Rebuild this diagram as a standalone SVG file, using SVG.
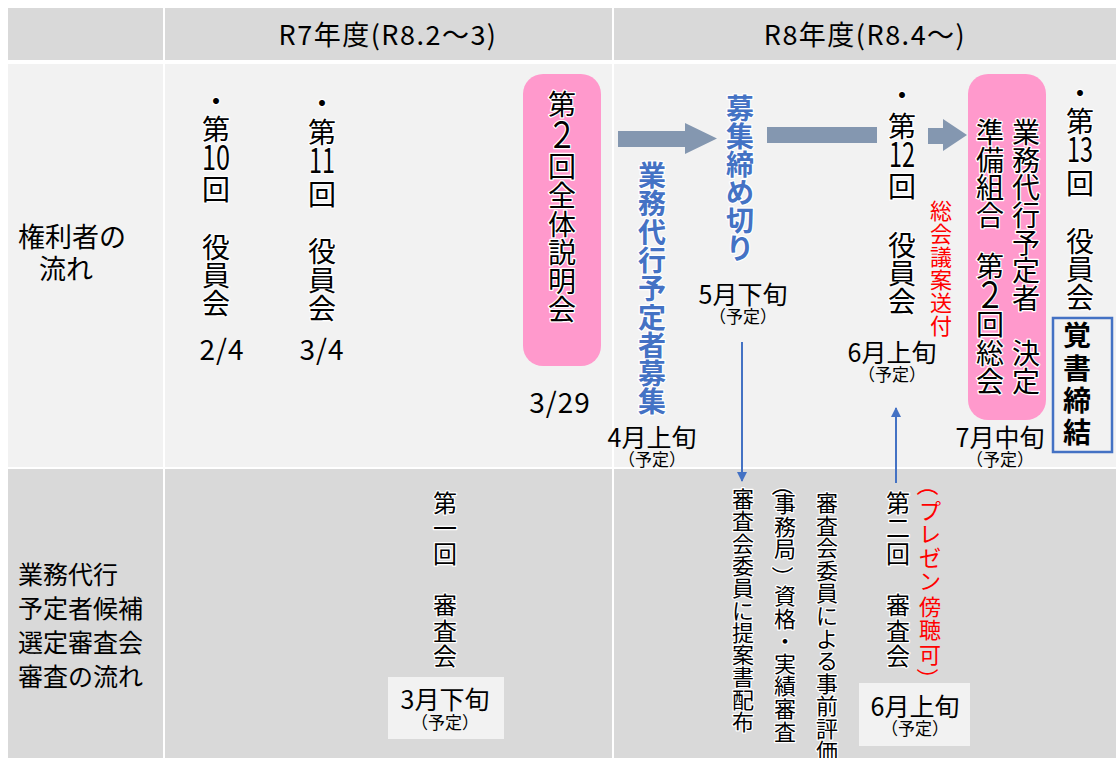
<svg xmlns="http://www.w3.org/2000/svg" width="1116" height="758" viewBox="0 0 1116 758">
<defs>
<style>
text{font-family:"Noto Sans CJK JP","Noto Sans",sans-serif;fill:#000}
.h{font-size:27px;letter-spacing:1.5px}
.lbl{font-size:25px}
.lbl2{font-size:27px}
.v{font-size:28px;text-anchor:middle}
.vs{font-size:22px;text-anchor:middle}
.vm{font-size:24px;text-anchor:middle}
.blue{fill:#4472c4;font-weight:bold}
.red{fill:#ff0000}
.halo{stroke:#fff;stroke-width:2.5px;stroke-linejoin:round;paint-order:stroke}
.date{font-size:25px;text-anchor:middle}
.sub{font-size:17px;text-anchor:middle}
.num{font-size:28px;text-anchor:middle;letter-spacing:1px}
.pink{fill:#ff99cc}
.garrow{fill:#8497b0}
.conn{stroke:#4472c4;stroke-width:2;fill:none}
</style>
<marker id="ah" viewBox="0 0 10 10" refX="9" refY="5" markerWidth="10" markerHeight="10" markerUnits="userSpaceOnUse" orient="auto">
<path d="M0,0 L10,5 L0,10 z" fill="#4472c4"/>
</marker>
</defs>

<g id="table">
<rect x="8" y="8" width="155" height="52" fill="#d9d9d9"/>
<rect x="165" y="8" width="447" height="52" fill="#d9d9d9"/>
<rect x="614" y="8" width="502" height="52" fill="#d9d9d9"/>
<rect x="8" y="64" width="155" height="403" fill="#f2f2f2"/>
<rect x="165" y="64" width="447" height="403" fill="#f2f2f2"/>
<rect x="614" y="64" width="502" height="403" fill="#f2f2f2"/>
<rect x="8" y="469" width="155" height="289" fill="#d9d9d9"/>
<rect x="165" y="469" width="447" height="289" fill="#d9d9d9"/>
<rect x="614" y="469" width="502" height="289" fill="#d9d9d9"/>
<text class="h" x="388" y="45" text-anchor="middle">R7年度(R8.2～3)</text>
<text class="h" x="865" y="45" text-anchor="middle">R8年度(R8.4～)</text>
<text class="lbl2" x="18" y="247">権利者の</text>
<text class="lbl2" x="39" y="279">流れ</text>
<text class="lbl" x="18" y="584">業務代行</text>
<text class="lbl" x="18" y="618">予定者候補</text>
<text class="lbl" x="18" y="652">選定審査会</text>
<text class="lbl" x="18" y="686">審査の流れ</text>
</g>

<g id="connectors">
<path class="garrow" d="M618,131 L685,131 L685,123 L717,138.5 L685,154 L685,147 L618,147 z"/>
<rect class="garrow" x="767" y="127" width="110" height="16"/>
<path class="garrow" d="M928,128 L943,128 L943,119 L967,135 L943,151 L943,144 L928,144 z"/>
<line class="conn" x1="742" y1="342" x2="742" y2="481" marker-end="url(#ah)"/>
<line class="conn" x1="896" y1="483" x2="896" y2="408" marker-end="url(#ah)"/>
</g>

<g id="n10">
<text class="v halo"><tspan x="216" y="112">・</tspan><tspan x="216" y="140">第</tspan><tspan x="216" y="170" font-size="34" textLength="28" lengthAdjust="spacingAndGlyphs">10</tspan><tspan x="216" y="200">回</tspan><tspan x="216" y="258">役</tspan><tspan x="216" y="286">員</tspan><tspan x="216" y="314">会</tspan></text>
<text class="num" x="222" y="360">2/4</text>
</g>

<g id="n11">
<text class="v halo"><tspan x="322" y="114">・</tspan><tspan x="322" y="143">第</tspan><tspan x="322" y="173" font-size="34" textLength="26" lengthAdjust="spacingAndGlyphs">11</tspan><tspan x="322" y="205">回</tspan><tspan x="322" y="262">役</tspan><tspan x="322" y="291">員</tspan><tspan x="322" y="319">会</tspan></text>
<text class="num" x="322" y="360">3/4</text>
</g>

<g id="n-setsumeikai">
<rect class="pink" x="523" y="74" width="78" height="292" rx="20"/>
<text class="v halo" font-size="29"><tspan x="562" y="115">第</tspan><tspan x="562" y="148" font-size="36" textLength="30" lengthAdjust="spacingAndGlyphs">２</tspan><tspan x="562" y="177">回</tspan><tspan x="562" y="206">全</tspan><tspan x="562" y="235">体</tspan><tspan x="562" y="263">説</tspan><tspan x="562" y="292">明</tspan><tspan x="562" y="320">会</tspan></text>
<text class="num" x="560" y="413">3/29</text>
</g>

<g id="n-boshu">
<text class="v blue halo"><tspan x="652" y="186">業</tspan><tspan x="652" y="214">務</tspan><tspan x="652" y="243">代</tspan><tspan x="652" y="271">行</tspan><tspan x="652" y="299">予</tspan><tspan x="652" y="328">定</tspan><tspan x="652" y="356">者</tspan><tspan x="652" y="384">募</tspan><tspan x="652" y="412">集</tspan></text>
<text class="date" x="652" y="447">4月上旬</text>
<text class="sub" x="652" y="466">（予定）</text>
</g>

<g id="n-shimekiri">
<text class="v blue halo"><tspan x="740" y="119">募</tspan><tspan x="740" y="147">集</tspan><tspan x="740" y="175">締</tspan><tspan x="740" y="203">め</tspan><tspan x="740" y="231">切</tspan><tspan x="740" y="259">り</tspan></text>
<text class="date" x="743" y="304">5月下旬</text>
<text class="sub" x="743" y="323">（予定）</text>
</g>

<g id="n12">
<text class="v halo"><tspan x="902" y="106">・</tspan><tspan x="902" y="137">第</tspan><tspan x="902" y="167" font-size="34" textLength="26" lengthAdjust="spacingAndGlyphs">12</tspan><tspan x="902" y="197">回</tspan><tspan x="902" y="256">役</tspan><tspan x="902" y="284">員</tspan><tspan x="902" y="312">会</tspan></text>
<text class="vs red"><tspan x="941" y="219">総</tspan><tspan x="941" y="242">会</tspan><tspan x="941" y="265">議</tspan><tspan x="941" y="288">案</tspan><tspan x="941" y="311">送</tspan><tspan x="941" y="334">付</tspan></text>
<text class="date" x="892" y="362">6月上旬</text>
<text class="sub" x="892" y="381">（予定）</text>
</g>

<g id="n-soukai">
<rect class="pink" x="968" y="74" width="78" height="346" rx="20"/>
<text class="v halo"><tspan x="1026" y="143">業</tspan><tspan x="1026" y="171">務</tspan><tspan x="1026" y="198">代</tspan><tspan x="1026" y="226">行</tspan><tspan x="1026" y="254">予</tspan><tspan x="1026" y="281">定</tspan><tspan x="1026" y="309">者</tspan><tspan x="1026" y="364">決</tspan><tspan x="1026" y="392">定</tspan></text>
<text class="v halo"><tspan x="990" y="143">準</tspan><tspan x="990" y="171">備</tspan><tspan x="990" y="198">組</tspan><tspan x="990" y="226">合</tspan><tspan x="990" y="277">第</tspan><tspan x="990" y="308" font-size="36" textLength="30" lengthAdjust="spacingAndGlyphs">２</tspan><tspan x="990" y="335">回</tspan><tspan x="990" y="364">総</tspan><tspan x="990" y="392">会</tspan></text>
<text class="date" x="1000" y="447">7月中旬</text>
<text class="sub" x="1000" y="466">（予定）</text>
</g>

<g id="n13">
<text class="v halo"><tspan x="1080" y="104">・</tspan><tspan x="1080" y="132">第</tspan><tspan x="1080" y="162" font-size="34" textLength="26" lengthAdjust="spacingAndGlyphs">13</tspan><tspan x="1080" y="194">回</tspan><tspan x="1080" y="252">役</tspan><tspan x="1080" y="280">員</tspan><tspan x="1080" y="308">会</tspan></text>
</g>

<g id="n-oboegaki">
<rect x="1053" y="318" width="59" height="134" fill="none" stroke="#4472c4" stroke-width="2.5"/>
<text class="v" font-size="25" font-weight="bold"><tspan x="1077" y="346">覚</tspan><tspan x="1077" y="379">書</tspan><tspan x="1077" y="411">締</tspan><tspan x="1077" y="443">結</tspan></text>
</g>

<g id="n-shinsa1">
<text class="vm halo"><tspan x="445" y="512">第</tspan><tspan x="445" y="537">一</tspan><tspan x="445" y="563">回</tspan><tspan x="445" y="614">審</tspan><tspan x="445" y="640">査</tspan><tspan x="445" y="665">会</tspan></text>
<rect x="388" y="677" width="116" height="62" fill="#f2f2f2"/>
<text class="date" x="445" y="709">3月下旬</text>
<text class="sub" x="445" y="729">（予定）</text>
</g>

<g id="n-haifu">
<text class="vs halo"><tspan x="743" y="507">審</tspan><tspan x="743" y="529">査</tspan><tspan x="743" y="552">会</tspan><tspan x="743" y="574">委</tspan><tspan x="743" y="596">員</tspan><tspan x="743" y="619">に</tspan><tspan x="743" y="641">提</tspan><tspan x="743" y="663">案</tspan><tspan x="743" y="685">書</tspan><tspan x="743" y="708">配</tspan><tspan x="743" y="730">布</tspan></text>
</g>

<g id="n-shikaku">
<text class="vs halo" transform="translate(785,485) rotate(90)" dominant-baseline="central">（</text>
<text class="vs halo"><tspan x="785" y="512">事</tspan><tspan x="785" y="535">務</tspan><tspan x="785" y="557">局</tspan></text>
<text class="vs halo" transform="translate(785,577) rotate(90)" dominant-baseline="central">）</text>
<text class="vs halo"><tspan x="785" y="604">資</tspan><tspan x="785" y="627">格</tspan><tspan x="785" y="649">・</tspan><tspan x="785" y="672">実</tspan><tspan x="785" y="694">績</tspan><tspan x="785" y="717">審</tspan><tspan x="785" y="740">査</tspan></text>
</g>

<g id="n-hyoka">
<text class="vs halo"><tspan x="827" y="511">審</tspan><tspan x="827" y="534">査</tspan><tspan x="827" y="556">会</tspan><tspan x="827" y="579">委</tspan><tspan x="827" y="601">員</tspan><tspan x="827" y="624">に</tspan><tspan x="827" y="647">よ</tspan><tspan x="827" y="669">る</tspan><tspan x="827" y="692">事</tspan><tspan x="827" y="714">前</tspan><tspan x="827" y="737">評</tspan><tspan x="827" y="759">価</tspan></text>
</g>

<g id="n-shinsa2">
<text class="vm halo"><tspan x="898" y="512">第</tspan><tspan x="898" y="537">二</tspan><tspan x="898" y="563">回</tspan><tspan x="898" y="614">審</tspan><tspan x="898" y="640">査</tspan><tspan x="898" y="665">会</tspan></text>
<text class="vs red" font-size="23" transform="translate(930,485) rotate(90)" dominant-baseline="central">（</text>
<text class="vs red" font-size="23"><tspan x="930" y="519">プ</tspan><tspan x="930" y="542">レ</tspan><tspan x="930" y="566">ゼ</tspan><tspan x="930" y="589">ン</tspan><tspan x="930" y="615">傍</tspan><tspan x="930" y="638">聴</tspan><tspan x="930" y="663">可</tspan></text>
<text class="vs red" font-size="23" transform="translate(930,679) rotate(90)" dominant-baseline="central">）</text>
<rect x="859" y="683" width="111" height="63" fill="#f2f2f2"/>
<text class="date" x="915" y="716">6月上旬</text>
<text class="sub" x="915" y="735">（予定）</text>
</g>
</svg>
